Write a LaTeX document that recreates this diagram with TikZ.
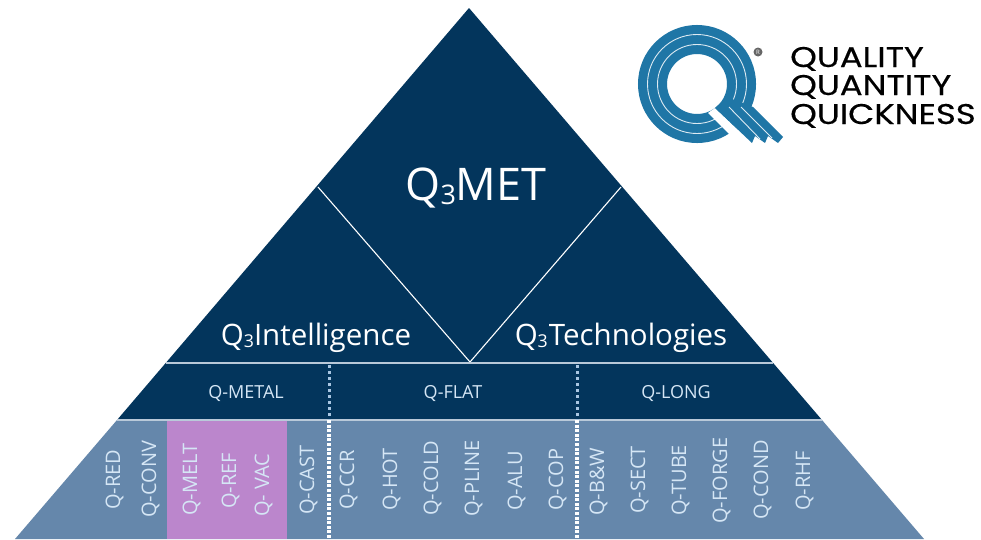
\documentclass[tikz,border=0pt]{standalone}
\usepackage{fontspec}
\setmainfont{Open Sans}
\newfontfamily\logofont[FakeStretch=1.19,FakeBold=0.4]{Poppins}
\definecolor{deep}{HTML}{03355C}
\definecolor{mid}{HTML}{6587AB}
\definecolor{pinkband}{HTML}{BB86CC}
\definecolor{sepline}{HTML}{B9C9D9}
\definecolor{tick}{HTML}{A9C6E2}
\definecolor{labelblue}{HTML}{D5E6F5}
\definecolor{logoblue}{HTML}{1F76A6}
\newcommand{\qsub}{\raisebox{-.1em}{\scalebox{.6}{3}}}
\tikzset{
  x=1pt,y=-1pt,
  bigtitle/.style={text=white,font=\fontsize{45}{45}\selectfont,inner sep=0,anchor=base},
  midtitle/.style={text=white,font=\fontsize{29.5}{30}\selectfont,inner sep=0,anchor=base},
  family/.style={text=labelblue,font=\fontsize{18}{18}\selectfont,inner sep=0,anchor=base},
  product/.style={text=labelblue,font=\fontsize{20}{20}\selectfont,inner sep=0,rotate=90,anchor=base west},
  vee/.style={draw=white,line width=1.1pt},
  sep/.style={draw=sepline,line width=1.3pt},
  dotsoft/.style={draw=tick,line width=3pt,dash pattern=on 3pt off 3pt},
  dotwhite/.style={draw=white,line width=3.5pt,dash pattern=on 3pt off 1.6pt},
  logotext/.style={text=black,font=\logofont\fontsize{28.5}{29}\selectfont,inner sep=0,anchor=base west},
  ringline/.style={draw=white!85!logoblue,line width=.9pt},
}
\begin{document}
\begin{tikzpicture}
\useasboundingbox (0,0) rectangle (981,539);
\fill[white] (0,0) rectangle (981,539);
% tiers
\fill[deep] (469,8) -- (822,420) -- (117,420) -- cycle;
\fill[mid] (117,420) -- (822,420) -- (924,539) -- (15,539) -- cycle;
\fill[pinkband] (167,421) rectangle (287,539);
% anchors
\coordinate (apexV) at (470,362);
\coordinate (veeL) at (318,187);
\coordinate (veeR) at (621,187);
\coordinate (sepAL) at (166,363);
\coordinate (sepAR) at (773,363);
\coordinate (sepBL) at (117,420);
\coordinate (sepBR) at (822,420);
\coordinate (d1a) at (329,365);
\coordinate (d1b) at (329,420);
\coordinate (d1c) at (329,539);
\coordinate (d2a) at (577,365);
\coordinate (d2b) at (577,420);
\coordinate (d2c) at (577,539);
\draw[vee] (veeL) -- (apexV) -- (veeR);
\draw[sep] (sepAL) -- (sepAR);
\draw[sep] (sepBL) -- (sepBR);
\draw[dotsoft] (d1a) -- (d1b);
\draw[dotsoft] (d2a) -- (d2b);
\draw[dotwhite] (d1b) -- (d1c);
\draw[dotwhite] (d2b) -- (d2c);
% titles
\node[bigtitle] (met) at (476,200) {Q\qsub MET};
\node[midtitle] (intel) at (316,345) {Q\qsub Intelligence};
\node[midtitle] (tech) at (621,345) {Q\qsub\kern1pt Technologies};
\node[family] (fmetal) at (246,398) {Q-METAL};
\node[family] (fflat) at (453,398) {Q-FLAT};
\node[family] (flong) at (676,398) {Q-LONG};
% products
\node[product] (p1) at (120,510) {Q-RED};
\node[product] (p2) at (156,518) {Q-CONV};
\node[product] (p3) at (197,516) {Q-MELT};
\node[product] (p4) at (236,509) {Q-REF};
\node[product] (p5) at (269,517) {Q- VAC};
\node[product] (p6) at (314,515) {Q-CAST};
\node[product] (p7) at (354,510) {Q-CCR};
\node[product] (p8) at (397,511) {Q-HOT};
\node[product] (p9) at (438,516) {Q-COLD};
\node[product] (p10) at (479,517) {Q-PLINE};
\node[product] (p11) at (522,511) {Q-ALU};
\node[product] (p12) at (563,511) {Q-COP};
\node[product] (p13) at (604,516) {Q-B\&W};
\node[product] (p14) at (645,514) {Q-SECT};
\node[product] (p15) at (686,516) {Q-TUBE};
\node[product] (p16) at (727,524) {Q-FORGE};
\node[product] (p17) at (768,520) {Q-COND};
\node[product] (p18) at (810,511) {Q-RHF};
% logo
\draw[logoblue,line width=29pt] (697,84) circle[radius=44.5];
\draw[ringline] (697,84) circle[radius=49.5];
\draw[ringline] (697,84) circle[radius=39.5];
\fill[white] (708,113) -- (745,150) -- (752,143) -- (715,108) -- cycle;
\fill[logoblue] (715,108) -- (752,143) -- (755,136) -- (765,143) -- (768,136) -- (778,143) -- (783,137) -- (753,107) -- (727,97) -- cycle;
\draw[ringline] (729,107) -- (760,139);
\draw[ringline] (741,107) -- (772,138);
\node[circle,fill=black!60,minimum size=9pt,inner sep=0,text=white,font=\fontsize{6}{6}\selectfont] (reg) at (758,52) {R};
\node[logotext] (l1) at (790,67) {QUALITY};
\node[logotext] (l2) at (790,95) {QUANTITY};
\node[logotext] (l3) at (790,124) {QUICKNESS};
\end{tikzpicture}
\end{document}
